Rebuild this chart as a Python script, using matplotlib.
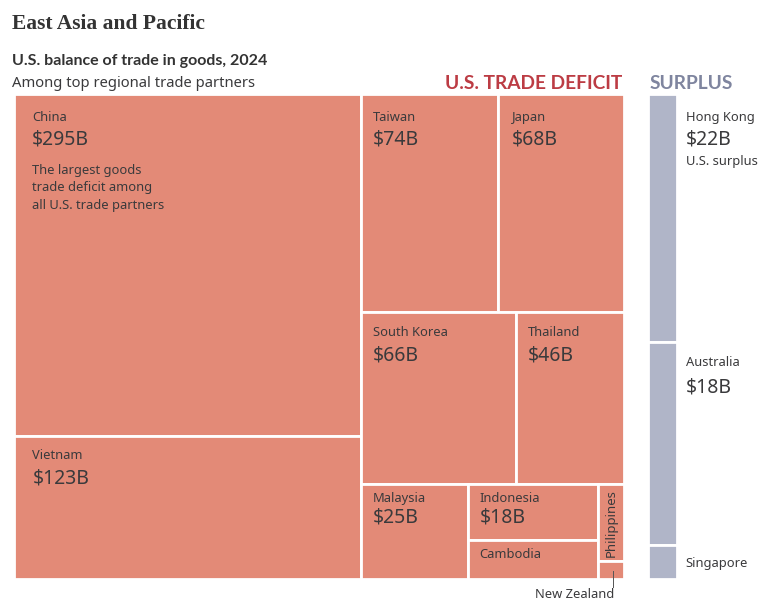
import matplotlib
matplotlib.use("Agg")
import matplotlib.pyplot as plt

# U.S. goods trade balance, billions of dollars
deficit_names = ["China", "Vietnam", "Taiwan", "Japan", "South Korea", "Thailand",
                 "Malaysia", "Indonesia", "Cambodia", "Philippines", "New Zealand"]
deficit_values = [295, 123, 74, 68, 66, 46, 25, 18, 12.5, 5, 1.1]
surplus_names = ["Hong Kong", "Australia", "Singapore"]
surplus_values = [22, 18, 3]

RED = "#e38a77"
GREY = "#b0b5c8"
INK = "#3a3a3c"
FONT = "Noto Sans"
BOLD = "Lato"

vals = dict(zip(deficit_names + surplus_names, deficit_values + surplus_values))

# treemap nesting, "h" splits left to right and "v" top to bottom
deficit_tree = ("h", [
    ("v", ["China", "Vietnam"]),
    ("v", [
        ("h", ["Taiwan", "Japan"]),
        ("h", ["South Korea", "Thailand"]),
        ("h", ["Malaysia",
               ("v", ["Indonesia", "Cambodia"]),
               ("v", ["Philippines", "New Zealand"])]),
    ]),
])
surplus_tree = ("v", surplus_names)


def total(node):
    if isinstance(node, str):
        return vals[node]
    return sum(total(c) for c in node[1])


def layout(node, x, y, w, h, out):
    if isinstance(node, str):
        out[node] = (x, y, w, h)
        return out
    kind, kids = node
    s = total(node)
    for kid in kids:
        part = total(kid) / s
        if kind == "h":
            layout(kid, x, y, w * part, h, out)
            x += w * part
        else:
            layout(kid, x, y, w, h * part, out)
            y += h * part
    return out


fig = plt.figure(figsize=(7.73, 6.14), dpi=100)
ax = fig.add_axes([0, 0, 1, 1])
ax.set_xlim(0, 773)
ax.set_ylim(614, 0)
ax.axis("off")

boxes = layout(deficit_tree, 13.8, 94.2, 610.2, 484.3, {})
side = layout(surplus_tree, 648.3, 94.2, 28.7, 484.3, {})

for name in deficit_names:
    x, y, w, h = boxes[name]
    ax.bar(x, h, w, y, align="edge", color=RED, edgecolor="white", linewidth=2.0)
for name in surplus_names:
    x, y, w, h = side[name]
    ax.bar(x, h, w, y, align="edge", color=GREY, edgecolor="white", linewidth=2.0)


def txt(x, y, s, size=9.3, weight="normal", color=INK, family=FONT, **kw):
    ax.text(x, y, s, fontsize=size, fontweight=weight, color=color, family=family,
            va="baseline", **kw)


# name and value labels, offsets from each box corner
def label(name, dx, dy, value=None, dv=24, text=None):
    x, y, w, h = boxes[name] if name in boxes else side[name]
    txt(x + dx, y + dy, text or name, 9.3)
    if value:
        txt(x + dx, y + dy + dv, value, 14)


label("China", 18, 26.5, "$295B")
txt(32.5, 174, "The largest goods", 9.3)
txt(32.5, 191.5, "trade deficit among", 9.3)
txt(32.5, 209, "all U.S. trade partners", 9.3)
label("Vietnam", 18.5, 23.5, "$123B")
label("Taiwan", 11.5, 26.5, "$74B")
label("Japan", 13.5, 26.5, "$68B")
label("South Korea", 11.5, 24, "$66B")
label("Thailand", 11.5, 24, "$46B")
label("Malaysia", 11.5, 18.5, "$25B", 20)
label("Indonesia", 11.5, 18.5, "$18B", 20)
label("Cambodia", 11.5, 18)

x, y, w, h = boxes["Philippines"]
ax.text(x + w / 2 + 0.5, y + 5, "Philippines", fontsize=9.5, color=INK, family=FONT,
        rotation=90, ha="center", va="top")

# leader for New Zealand
x, y, w, h = boxes["New Zealand"]
ax.plot([612.5, 612.5], [y + h / 2 + 1, 587], color="#555555", lw=0.7)
txt(614, 598, "New Zealand", 9.3, ha="right")

txt(685.5, 121, "Hong Kong", 9.3)
txt(685.5, 145, "$22B", 14)
txt(685.5, 165, "U.S. surplus", 9.3)
txt(685.5, 366, "Australia", 9.3)
txt(685.5, 392, "$18B", 14)
txt(685.5, 567, "Singapore", 9.3)

txt(12, 29, "East Asia and Pacific", 15.5, "bold", "#333333", "Liberation Serif")
txt(12, 65, "U.S. balance of trade in goods, 2024", 11.5, "bold", "#333333", BOLD)
txt(12, 87, "Among top regional trade partners", 10.65)
txt(622.5, 89, "U.S. TRADE DEFICIT", 13.8, "bold", "#bc3c44", BOLD, ha="right")
txt(649.5, 89, "SURPLUS", 13.8, "bold", "#7f859f", BOLD)

fig.savefig("out.png", dpi=100)
